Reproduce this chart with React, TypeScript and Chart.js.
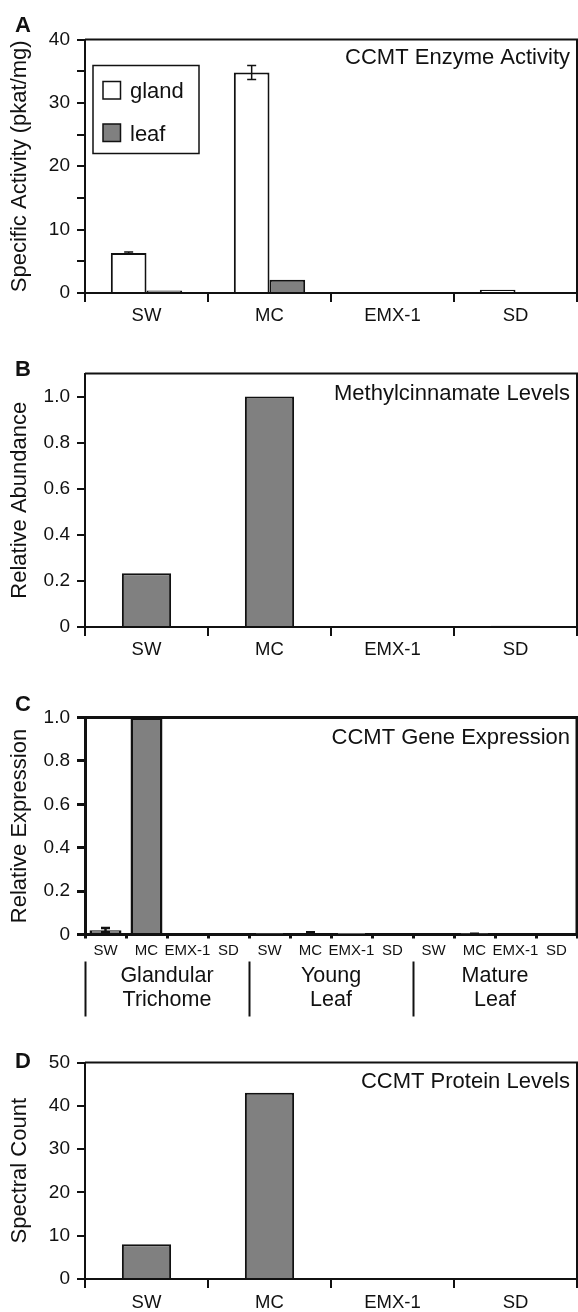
import React, { useEffect, useRef } from 'react';
import { Chart, registerables } from 'chart.js';

Chart.register(...registerables);

// ---------- data ----------
const strainLabels = ['SW', 'MC', 'EMX-1', 'SD'];

const enzymeSeriesNames = ['gland', 'leaf'];
const enzymeGland = [6.3, 34.8, 0, 0.5];
const enzymeGlandErr = [0.15, 1.1, 0, 0];
const enzymeLeaf = [0.4, 2.1, 0, 0];
const enzymeLeafErr = [0, 0, 0, 0];

const methylcinnamate = [0.233, 1.0, 0, 0.005];

const expressionLabels = ['SW', 'MC', 'EMX-1', 'SD', 'SW', 'MC', 'EMX-1', 'SD', 'SW', 'MC', 'EMX-1', 'SD'];
const expressionGroups = [['Glandular', 'Trichome'], ['Young', 'Leaf'], ['Mature', 'Leaf']];
const expressionValues = [0.02, 1.0, 0, 0, 0.003, 0.007, 0.001, 0, 0, 0.003, 0, 0];
const expressionErr = [0.01, 0, 0, 0, 0, 0.003, 0, 0, 0, 0.001, 0, 0];

const proteinCounts = [8, 43, 0, 0];

const panelTitles = ['CCMT Enzyme Activity', 'Methylcinnamate Levels', 'CCMT Gene Expression', 'CCMT Protein Levels'];
const axisTitles = ['Specific Activity (pkat/mg)', 'Relative Abundance', 'Relative Expression', 'Spectral Count'];
const panelLetters = ['A', 'B', 'C', 'D'];

// ---------- styling ----------
const FONT = "'Liberation Sans', Arial, Helvetica, sans-serif";
const INK = '#111';
const GRAY = '#808080';

type DS = { label: string; data: number[]; fill: string; errors?: number[] };
type Spec = {
  idx: number;
  pageTop: number;
  height: number;
  top: number;
  bottom: number;
  right: number;
  letterBaseline: number;
  titleOffset: number;
  labels: string[];
  datasets: DS[];
  yMax: number;
  yStep: number;
  yFormat: (v: number) => string;
  lineW: number;
  barBorder: number;
  errW: number;
  xFont: number;
  xTickLen: number;
  xPad: number;
  barPct: number;
  catPct: number;
  legend?: boolean;
  groups?: string[][];
};

const fmt1 = (v: number) => (Math.abs(v) < 1e-9 ? '0' : v.toFixed(1));

const specs: Spec[] = [
  {
    idx: 0, pageTop: 0, height: 330, top: 39.5, bottom: 293, right: 577,
    letterBaseline: 32, titleOffset: 24,
    labels: strainLabels,
    datasets: [
      { label: enzymeSeriesNames[0], data: enzymeGland, fill: '#ffffff', errors: enzymeGlandErr },
      { label: enzymeSeriesNames[1], data: enzymeLeaf, fill: GRAY, errors: enzymeLeafErr },
    ],
    yMax: 40, yStep: 5,
    yFormat: (v) => (Math.round(v) % 10 === 0 ? String(Math.round(v)) : ''),
    lineW: 2, barBorder: 2, errW: 1.5, xFont: 18.5, xTickLen: 9, xPad: 3,
    barPct: 1.0, catPct: 0.58, legend: true,
  },
  {
    idx: 1, pageTop: 330, height: 330, top: 43.5, bottom: 297, right: 577,
    letterBaseline: 46, titleOffset: 26.5,
    labels: strainLabels,
    datasets: [{ label: 'abundance', data: methylcinnamate, fill: GRAY }],
    yMax: 1.1, yStep: 0.2, yFormat: fmt1,
    lineW: 2, barBorder: 2, errW: 1.5, xFont: 18.5, xTickLen: 9, xPad: 3,
    barPct: 0.4, catPct: 1.0,
  },
  {
    idx: 2, pageTop: 660, height: 370, top: 57.5, bottom: 274.5, right: 577,
    letterBaseline: 51, titleOffset: 26,
    labels: expressionLabels,
    datasets: [{ label: 'expression', data: expressionValues, fill: GRAY, errors: expressionErr }],
    yMax: 1.0, yStep: 0.2, yFormat: fmt1,
    lineW: 3, barBorder: 2.5, errW: 2.5, xFont: 15, xTickLen: 4, xPad: 3,
    barPct: 0.78, catPct: 1.0, groups: expressionGroups,
  },
  {
    idx: 3, pageTop: 1030, height: 282, top: 32.5, bottom: 249, right: 577,
    letterBaseline: 38, titleOffset: 25,
    labels: strainLabels,
    datasets: [{ label: 'count', data: proteinCounts, fill: GRAY }],
    yMax: 50, yStep: 10, yFormat: (v) => String(Math.round(v)),
    lineW: 2, barBorder: 2, errW: 1.5, xFont: 18.5, xTickLen: 9, xPad: 3.5,
    barPct: 0.4, catPct: 1.0,
  },
];

function Panel({ s }: { s: Spec }) {
  const ref = useRef<HTMLCanvasElement>(null);

  useEffect(() => {
    const canvas = ref.current;
    if (!canvas) return;

    const decor = {
      id: 'decor' + s.idx,
      afterDatasetsDraw(chart: any) {
        const ctx = chart.ctx;
        const y = chart.scales.y;
        s.datasets.forEach((ds, di) => {
          if (!ds.errors) return;
          const meta = chart.getDatasetMeta(di);
          ds.errors.forEach((e, i) => {
            if (!e) return;
            const el = meta.data[i];
            const v = ds.data[i];
            const y1 = y.getPixelForValue(v + e);
            const y2 = y.getPixelForValue(Math.max(0, v - e));
            const cap = 9;
            ctx.save();
            ctx.strokeStyle = INK;
            ctx.lineWidth = s.errW;
            ctx.beginPath();
            ctx.moveTo(el.x, y1);
            ctx.lineTo(el.x, y2);
            ctx.moveTo(el.x - cap / 2, y1);
            ctx.lineTo(el.x + cap / 2, y1);
            ctx.moveTo(el.x - cap / 2, y2);
            ctx.lineTo(el.x + cap / 2, y2);
            ctx.stroke();
            ctx.restore();
          });
        });
      },
      afterDraw(chart: any) {
        const ctx = chart.ctx;
        const a = chart.chartArea;
        ctx.save();
        // frame (top and right)
        ctx.strokeStyle = INK;
        ctx.lineWidth = s.lineW;
        ctx.beginPath();
        ctx.moveTo(a.left, a.top);
        ctx.lineTo(a.right, a.top);
        ctx.lineTo(a.right, a.bottom);
        ctx.stroke();

        // panel letter
        ctx.fillStyle = INK;
        ctx.font = `bold 22px ${FONT}`;
        ctx.textAlign = 'left';
        ctx.textBaseline = 'alphabetic';
        ctx.fillText(panelLetters[s.idx], 15, s.letterBaseline);

        // in-plot title
        ctx.font = `22px ${FONT}`;
        ctx.textAlign = 'right';
        ctx.fillText(panelTitles[s.idx], a.right - 7, a.top + s.titleOffset);

        // legend
        if (s.legend) {
          const bx = a.left + 8;
          const by = a.top + 26;
          ctx.lineWidth = 1.5;
          ctx.strokeRect(bx, by, 106, 88);
          s.datasets.forEach((ds, i) => {
            const sy = by + 16 + i * 42.5;
            ctx.fillStyle = ds.fill;
            ctx.fillRect(bx + 10, sy, 17.5, 17.5);
            ctx.strokeStyle = INK;
            ctx.lineWidth = 1.5;
            ctx.strokeRect(bx + 10, sy, 17.5, 17.5);
            ctx.fillStyle = INK;
            ctx.font = `22px ${FONT}`;
            ctx.textAlign = 'left';
            ctx.fillText(ds.label, bx + 37, sy + 16.5);
          });
        }

        // group labels (panel C)
        if (s.groups) {
          const x = chart.scales.x;
          const n = s.labels.length;
          const per = n / s.groups.length;
          const cw = (a.right - a.left) / n;
          ctx.strokeStyle = INK;
          ctx.lineWidth = 2;
          ctx.fillStyle = INK;
          ctx.font = `21.5px ${FONT}`;
          ctx.textAlign = 'center';
          s.groups.forEach((g, gi) => {
            const first = gi * per;
            const last = first + per - 1;
            const left = x.getPixelForValue(first) - cw / 2;
            const center = (x.getPixelForValue(first) + x.getPixelForValue(last)) / 2;
            ctx.beginPath();
            ctx.moveTo(left + 0.5, a.bottom + 27);
            ctx.lineTo(left + 0.5, a.bottom + 82);
            ctx.stroke();
            g.forEach((line, li) => {
              ctx.fillText(line, center, a.bottom + 47.5 + li * 23.5);
            });
          });
        }
        ctx.restore();
      },
    };

    const chart = new Chart(canvas, {
      type: 'bar',
      data: {
        labels: s.labels,
        datasets: s.datasets.map((ds) => ({
          label: ds.label,
          data: ds.data,
          backgroundColor: ds.fill,
          borderColor: INK,
          borderWidth: s.barBorder,
          borderSkipped: 'start',
          barPercentage: s.barPct,
          categoryPercentage: s.catPct,
        })),
      },
      options: {
        responsive: false,
        animation: false,
        devicePixelRatio: 1,
        layout: { padding: { top: s.top, right: 578 - s.right, bottom: 0, left: 0 } },
        plugins: {
          legend: { display: false },
          tooltip: { enabled: false },
          title: { display: false },
        },
        scales: {
          x: {
            grid: {
              offset: true,
              drawOnChartArea: false,
              drawTicks: true,
              tickLength: s.xTickLen,
              color: INK,
              lineWidth: s.lineW,
            },
            border: { display: true, color: INK, width: s.lineW },
            ticks: {
              font: { size: s.xFont, family: FONT },
              color: INK,
              padding: s.xPad,
              maxRotation: 0,
              minRotation: 0,
              autoSkip: false,
            },
            afterFit: (sc: any) => {
              sc.height = s.height - s.bottom;
            },
          },
          y: {
            min: 0,
            max: s.yMax,
            grid: {
              drawOnChartArea: false,
              drawTicks: true,
              tickLength: 8,
              color: INK,
              lineWidth: s.lineW,
            },
            border: { display: true, color: INK, width: s.lineW },
            ticks: {
              stepSize: s.yStep,
              includeBounds: false,
              callback: (v: any) => s.yFormat(Number(v)),
              font: { size: 19, family: FONT },
              color: INK,
              padding: 7,
            },
            title: {
              display: true,
              text: axisTitles[s.idx],
              font: { size: 22, family: FONT },
              color: INK,
              padding: { top: 7, bottom: 0 },
            },
            afterFit: (sc: any) => {
              sc.width = 85;
            },
          },
        },
      },
      plugins: [decor],
    } as any);

    return () => chart.destroy();
  }, [s]);

  return (
    <canvas
      ref={ref}
      width={578}
      height={s.height}
      style={{ position: 'absolute', left: 0, top: s.pageTop, width: 578, height: s.height }}
    />
  );
}

export default function App() {
  return (
    <div style={{ position: 'absolute', left: 0, top: 0, width: 578, height: 1312, background: '#fff' }}>
      {specs.map((s) => (
        <Panel key={s.idx} s={s} />
      ))}
    </div>
  );
}
